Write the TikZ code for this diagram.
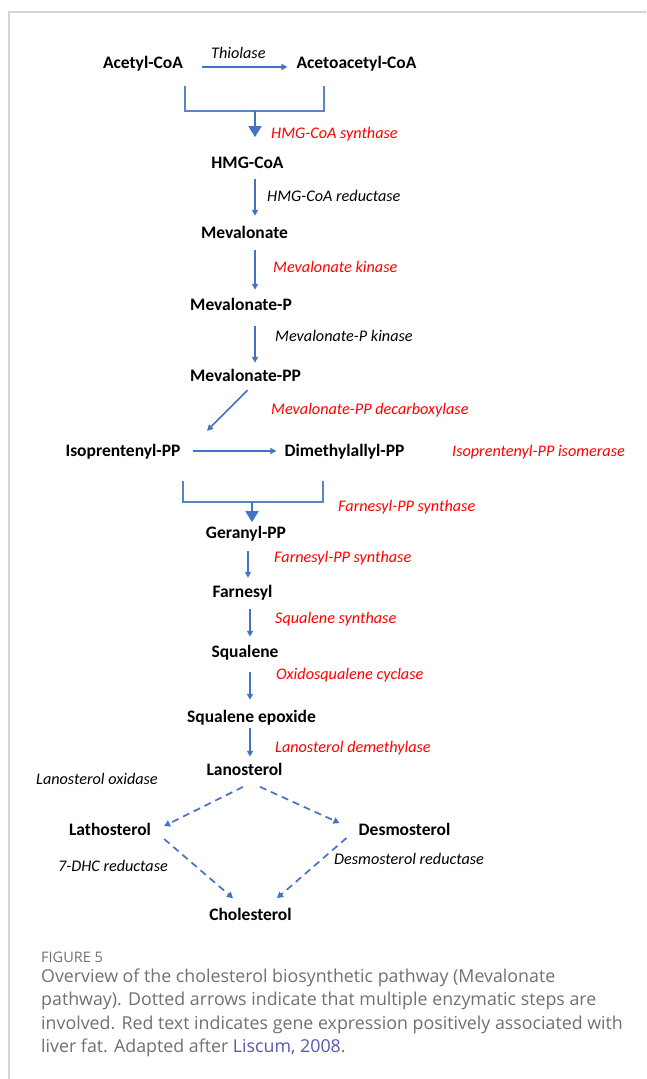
\documentclass[tikz,border=0pt]{standalone}
\usepackage{fontspec}
\setmainfont{Carlito}
\newfontfamily\capfont{Open Sans}
\usetikzlibrary{arrows.meta}
\definecolor{arrblue}{HTML}{4472C4}
\definecolor{brkblue}{HTML}{5B83C9}
\definecolor{enzred}{HTML}{FF0000}
\definecolor{capgray}{HTML}{707070}
\definecolor{linkblue}{HTML}{5757B0}
\definecolor{framegray}{HTML}{D4D4D4}
\tikzset{
  chem/.style={font=\fontsize{17.5}{20}\selectfont\bfseries, text height=11.3pt, text depth=0pt, inner sep=0pt, anchor=center},
  enz/.style={font=\fontsize{16.2}{18}\selectfont\itshape, text height=10.4pt, text depth=0pt, inner sep=0pt, anchor=west},
  red/.style={text=enzred},
  arr/.style={draw=arrblue, line width=1.6pt, -{Triangle[width=6pt,length=6pt]}},
  bigarr/.style={draw=arrblue, line width=1.6pt, -{Triangle[width=13pt,length=11pt]}},
  brk/.style={draw=brkblue, line width=1.2pt},
  darr/.style={draw=arrblue, line width=1.7pt, dash pattern=on 7pt off 5pt, -{Triangle[width=6.5pt,length=6pt]}},
}
\begin{document}
\begin{tikzpicture}[x=1pt,y=-1pt]
\useasboundingbox (0,0) rectangle (646,1079);
\draw[framegray, line width=1.3pt] (9,1079) -- (9,12) -- (646,12);

% axes for vertical arrows
\coordinate (ax255) at (255,0);
\coordinate (ax248) at (248,0);
\coordinate (ax250) at (250,0);

% compounds
\node[chem] (acetyl) at (143,63) {Acetyl-CoA};
\node[chem] (acac) at (356.5,63) {Acetoacetyl-CoA};
\node[chem] (hmg) at (247.5,163) {HMG-CoA};
\node[chem] (mev) at (244.5,233) {Mevalonate};
\node[chem] (mevp) at (241,305) {Mevalonate-P};
\node[chem] (mevpp) at (245.5,376) {Mevalonate-PP};
\node[chem] (isopp) at (123,451) {Isoprentenyl-PP};
\node[chem] (dmapp) at (344.5,451) {Dimethylallyl-PP};
\node[chem] (geranyl) at (246,533) {Geranyl-PP};
\node[chem] (farnesyl) at (242.5,592) {Farnesyl};
\node[chem] (squalene) at (245,652) {Squalene};
\node[chem] (sqep) at (251.5,717) {Squalene epoxide};
\node[chem] (lano) at (244.5,770) {Lanosterol};
\node[chem] (latho) at (110,830) {Lathosterol};
\node[chem] (desmo) at (404.5,830) {Desmosterol};
\node[chem] (chol) at (250.5,915) {Cholesterol};

% enzymes
\node[enz] (thiolase) at (211,53) {Thiolase};
\node[enz,red] (hmgs) at (271,133) {HMG-CoA synthase};
\node[enz] (hmgr) at (267,196) {HMG-CoA reductase};
\node[enz,red] (mk) at (273,267) {Mevalonate kinase};
\node[enz] (pmk) at (275,336) {Mevalonate-P kinase};
\node[enz,red] (mvd) at (271,409) {Mevalonate-PP decarboxylase};
\node[enz,red] (idi) at (452,451) {Isoprentenyl-PP isomerase};
\node[enz,red] (fps1) at (338,506) {Farnesyl-PP synthase};
\node[enz,red] (fps2) at (274,557) {Farnesyl-PP synthase};
\node[enz,red] (sqs) at (275,618) {Squalene synthase};
\node[enz,red] (osc) at (276,674) {Oxidosqualene cyclase};
\node[enz,red] (cyp) at (275,747) {Lanosterol demethylase};
\node[enz] (lox) at (36,779) {Lanosterol oxidase};
\node[enz] (dhcr7) at (58,866) {7-DHC reductase};
\node[enz] (dhcr24) at (334,859) {Desmosterol reductase};

% top step
\draw[arr, shorten <=19pt, shorten >=9pt] ([yshift=-4pt]acetyl.east) -- ([yshift=-4pt]acac.west);
\draw[brk] (185,86) |- (324,111) -- (324,86);
\coordinate (b1) at (255,111);
\draw[bigarr, shorten >=20pt] (b1) -- (hmg.north -| b1);

% vertical chain
\draw[arr, shorten <=10.4pt, shorten >=11.4pt] (hmg.south -| ax255) -- (mev.north -| ax255);
\draw[arr, shorten <=11.4pt, shorten >=9.4pt] (mev.south -| ax255) -- (mevp.north -| ax255);
\draw[arr, shorten <=15pt, shorten >=7.4pt] (mevp.south -| ax255) -- (mevpp.north -| ax255);
\draw[arr] ([xshift=2pt,yshift=-8.3pt]mevpp.south) -- ([xshift=84pt,yshift=14.3pt]isopp.north);
\draw[arr, shorten <=12pt, shorten >=8pt] (isopp.east) -- (dmapp.west);

\draw[brk] (183,481) |- (323,502) -- (323,481);
\coordinate (b2) at (252,502);
\draw[bigarr, shorten >=5pt] (b2) -- (geranyl.north -| b2);

\draw[arr, shorten <=12.4pt, shorten >=8.4pt] (geranyl.south -| ax248) -- (farnesyl.north -| ax248);
\draw[arr, shorten <=11.4pt, shorten >=9.4pt] (farnesyl.south -| ax250) -- (squalene.north -| ax250);
\draw[arr, shorten <=14.4pt, shorten >=11.4pt] (squalene.south -| ax250) -- (sqep.north -| ax250);
\draw[arr, shorten <=5.4pt, shorten >=7.4pt] (sqep.south -| ax250) -- (lano.north -| ax250);

% dashed multi-step arrows
\draw[darr] ([xshift=-1.5pt,yshift=-11pt]lano.south) -- ([xshift=13pt,yshift=4pt]latho.east);
\draw[darr] ([xshift=15.5pt,yshift=-11pt]lano.south) -- ([xshift=-19pt,yshift=7pt]desmo.west);
\draw[darr] ([xshift=13pt,yshift=-9pt]latho.east) -- ([xshift=-17.5pt,yshift=11pt]chol.north);
\draw[darr] ([xshift=-12pt,yshift=-8pt]desmo.west) -- ([xshift=26.5pt,yshift=11pt]chol.north);

% caption
\node[anchor=west, inner sep=0pt, text=capgray, font=\capfont\fontsize{14.5}{16}\selectfont] (figlabel) at (41,957) {FIGURE 5};
\node[anchor=north west, inner sep=0pt, text=capgray, align=left, font=\capfont\fontsize{17.8}{23.4}\selectfont] (caption) at (41,968.5)
{Overview of the cholesterol biosynthetic pathway (Mevalonate\\
pathway). Dotted arrows indicate that multiple enzymatic steps are\\
involved. Red text indicates gene expression positively associated with\\
liver fat. Adapted after \textcolor{linkblue}{Liscum, 2008}.};
\end{tikzpicture}
\end{document}
